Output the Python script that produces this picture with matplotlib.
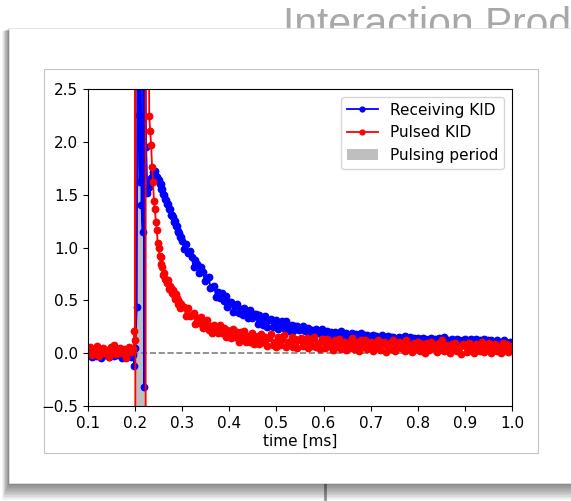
import numpy as np
import matplotlib
matplotlib.use("Agg")
import matplotlib.pyplot as plt
from matplotlib.patches import Rectangle

# ---------------- data ----------------
t_pre = np.round(np.arange(0.100, 0.1961, 0.004), 4)
t_decay = np.round(np.arange(0.230, 0.3001, 0.002), 4)
t_tail = np.round(np.arange(0.304, 1.0001, 0.004), 4)

red_pre = [0.03, 0.06, -0.02, 0.04, 0.01, 0.07, -0.03, 0.02, 0.05, 0.00, 0.03, -0.04, 0.06,
           0.02, 0.08, -0.01, 0.03, 0.05, 0.00, 0.04, -0.05, 0.02, 0.06, 0.01, 0.04]
blue_pre = [-0.02, 0.01, -0.04, 0.00, -0.03, 0.02, -0.01, -0.05, 0.01, -0.02, 0.00, -0.04, 0.02,
            -0.01, -0.03, 0.01, -0.02, 0.00, -0.05, 0.01, -0.03, -0.01, 0.02, -0.04, -0.02]

red_pulse_t = [0.1985, 0.2000, 0.2003, 0.2006, 0.2222, 0.2226, 0.2260, 0.2290]
red_pulse = [0.21, 0.12, 25.0, -25.0, -25.0, 25.0, 6.0, 3.2]
blue_pulse_t = [0.1985, 0.2005, 0.2035, 0.2055, 0.2075, 0.2095, 0.2115, 0.2135, 0.2160,
                0.2180, 0.2195, 0.2215, 0.2235, 0.2260, 0.2280]
blue_pulse = [-0.12, 0.05, 0.44, 4.0, 2.25, 1.62, 3.5, 1.40, 1.15, 4.0, -0.32, 3.0, 1.95, 1.52, 1.56]

red_decay = [2.24, 2.10, 1.97, 1.76, 1.62, 1.44, 1.36, 1.24, 1.17, 1.04, 1.00, 0.92, 0.91, 0.84,
             0.82, 0.74, 0.76, 0.70, 0.69, 0.66, 0.69, 0.61, 0.64, 0.62, 0.57, 0.60, 0.55, 0.51,
             0.56, 0.52, 0.47, 0.50, 0.48, 0.43, 0.47, 0.44]
blue_decay = [1.57, 1.63, 1.66, 1.67, 1.71, 1.70, 1.72, 1.68, 1.67, 1.65, 1.64, 1.60, 1.60, 1.55,
              1.55, 1.51, 1.50, 1.46, 1.45, 1.41, 1.41, 1.36, 1.36, 1.31, 1.31, 1.29, 1.24, 1.25,
              1.20, 1.20, 1.16, 1.15, 1.14, 1.10, 1.10, 1.06]

blue_tail = [
    0.99, 1.03, 0.95, 0.97, 0.91, 0.82, 0.88, 0.84, 0.76, 0.82,
    0.77, 0.68, 0.71, 0.72, 0.62, 0.63, 0.64, 0.53, 0.58, 0.52,
    0.57, 0.49, 0.54, 0.44, 0.48, 0.48, 0.39, 0.45, 0.47, 0.38,
    0.42, 0.36, 0.43, 0.38, 0.33, 0.41, 0.33, 0.37, 0.37, 0.28,
    0.36, 0.30, 0.27, 0.35, 0.25, 0.31, 0.32, 0.25, 0.27, 0.31,
    0.23, 0.28, 0.30, 0.24, 0.30, 0.21, 0.26, 0.27, 0.21, 0.26,
    0.26, 0.22, 0.23, 0.26, 0.21, 0.23, 0.24, 0.20, 0.22, 0.21,
    0.23, 0.19, 0.21, 0.23, 0.18, 0.19, 0.21, 0.18, 0.20, 0.17,
    0.20, 0.18, 0.17, 0.21, 0.17, 0.18, 0.19, 0.15, 0.17, 0.19,
    0.16, 0.18, 0.16, 0.14, 0.19, 0.15, 0.17, 0.17, 0.13, 0.16,
    0.17, 0.14, 0.16, 0.15, 0.12, 0.17, 0.13, 0.15, 0.16, 0.12,
    0.15, 0.15, 0.12, 0.13, 0.15, 0.11, 0.14, 0.16, 0.12, 0.13,
    0.15, 0.12, 0.14, 0.10, 0.14, 0.12, 0.11, 0.14, 0.13, 0.10,
    0.13, 0.14, 0.11, 0.13, 0.12, 0.14, 0.10, 0.13, 0.15, 0.10,
    0.12, 0.10, 0.13, 0.11, 0.09, 0.13, 0.12, 0.10, 0.12, 0.13,
    0.09, 0.12, 0.13, 0.10, 0.11, 0.13, 0.10, 0.12, 0.09, 0.13,
    0.11, 0.12, 0.09, 0.12, 0.11, 0.08, 0.12, 0.10, 0.09, 0.11,
    0.12, 0.09, 0.10, 0.11, 0.09]
red_tail = [
    0.44, 0.35, 0.43, 0.35, 0.36, 0.38, 0.28, 0.33, 0.29, 0.34,
    0.24, 0.29, 0.31, 0.22, 0.26, 0.19, 0.27, 0.22, 0.19, 0.27,
    0.19, 0.24, 0.15, 0.22, 0.20, 0.14, 0.23, 0.15, 0.20, 0.11,
    0.20, 0.15, 0.21, 0.11, 0.16, 0.11, 0.19, 0.09, 0.14, 0.16,
    0.09, 0.18, 0.11, 0.15, 0.07, 0.14, 0.18, 0.08, 0.11, 0.06,
    0.15, 0.08, 0.13, 0.17, 0.06, 0.11, 0.08, 0.15, 0.06, 0.13,
    0.05, 0.12, 0.14, 0.07, 0.10, 0.14, 0.05, 0.12, 0.07, 0.15,
    0.06, 0.10, 0.04, 0.13, 0.11, 0.05, 0.13, 0.07, 0.11, 0.03,
    0.12, 0.06, 0.13, 0.04, 0.09, 0.11, 0.03, 0.10, 0.05, 0.14,
    0.04, 0.09, 0.11, 0.02, 0.12, 0.06, 0.12, 0.04, 0.07, 0.11,
    0.02, 0.10, 0.06, 0.12, 0.03, 0.09, 0.11, 0.01, 0.08, 0.10,
    0.04, 0.12, 0.02, 0.09, 0.11, 0.05, 0.09, 0.02, 0.12, 0.05,
    0.08, 0.01, 0.10, 0.04, 0.11, 0.02, 0.07, 0.09, 0.00, 0.10,
    0.03, 0.11, 0.05, 0.08, 0.01, 0.10, 0.04, 0.12, 0.02, 0.07,
    0.08, 0.00, 0.09, 0.03, 0.10, 0.02, 0.06, -0.01, 0.09, 0.07,
    0.01, 0.10, 0.03, 0.08, 0.00, 0.09, 0.06, 0.02, 0.11, 0.01,
    0.08, 0.03, 0.10, 0.00, 0.07, 0.09, 0.02, 0.06, 0.00, 0.10,
    0.03, 0.09, 0.01, 0.07, 0.02]

pulse_start, pulse_end = 0.200, 0.221
x_ticks = [0.1, 0.2, 0.3, 0.4, 0.5, 0.6, 0.7, 0.8, 0.9, 1.0]
y_ticks = [-0.5, 0.0, 0.5, 1.0, 1.5, 2.0, 2.5]

t_blue = np.concatenate([t_pre, blue_pulse_t, t_decay, t_tail])
v_blue = np.concatenate([blue_pre, blue_pulse, blue_decay, blue_tail])
t_red = np.concatenate([t_pre, red_pulse_t, t_decay, t_tail])
v_red = np.concatenate([red_pre, red_pulse, red_decay, red_tail])

# ---------------- figure / slide background ----------------
W, H = 571, 501
fig = plt.figure(figsize=(W / 100, H / 100), dpi=100)
fig.patch.set_facecolor("white")
bg = fig.add_axes([0, 0, 1, 1])
bg.set_xlim(0, W)
bg.set_ylim(H, 0)
bg.axis("off")

bg.text(283, 36, "Interaction Prod", fontsize=29.3, family="Liberation Sans",
        color="#a8a8a8", ha="left", va="baseline", zorder=1)
bg.plot([325, 325], [478, 501], color="#9a9a9a", lw=2, zorder=2, solid_capstyle="butt")
for k in range(1, 12):
    bg.add_patch(Rectangle((9 - 0.6 * k, 28 + 0.3 * k), 700, 455 + 1.2 * k,
                           fc="black", alpha=0.05, lw=0, zorder=3))
bg.add_patch(Rectangle((9, 28), 700, 455, fc="white", ec="#e2e2e2", lw=0.6, zorder=4))
bg.add_patch(Rectangle((44, 69), 494, 384, fc="white", ec="#c4c4c4", lw=0.8, zorder=5))

# ---------------- chart ----------------
ax = fig.add_axes([88 / W, (H - 406) / H, 424 / W, 317 / H])
span = ax.axvspan(pulse_start, pulse_end, color="#bfbfbf", lw=0, zorder=1, label="Pulsing period")
ax.axhline(0, color="gray", ls="--", lw=1.2, zorder=1.5)
lb, = ax.plot(t_blue, v_blue, color="blue", marker="o", ms=4.6, lw=1.3, zorder=2,
              label="Receiving KID")
lr, = ax.plot(t_red, v_red, color="red", marker="o", ms=4.6, lw=1.3, zorder=2.1,
              label="Pulsed KID")

ax.set_xlim(0.1, 1.0)
ax.set_ylim(-0.5, 2.5)
ax.set_xticks(x_ticks)
ax.set_yticks(y_ticks)
ax.tick_params(labelsize=11)
ax.set_xlabel("time [ms]", fontsize=11, labelpad=2)
leg = ax.legend(handles=[lb, lr, span], loc="upper right", fontsize=11, markerscale=0.75)

fig.savefig("out.png", dpi=100)
